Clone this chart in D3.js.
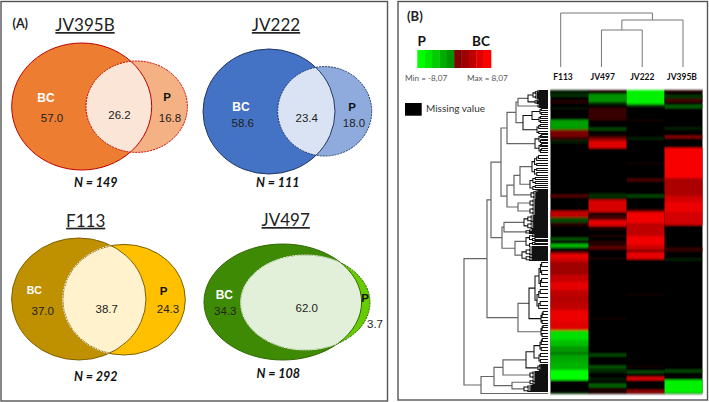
<!DOCTYPE html>
<html><head><meta charset="utf-8">
<script src="https://cdn.jsdelivr.net/npm/d3@7"></script>
<style>html,body{margin:0;padding:0;background:#fff}svg{display:block}</style></head>
<body><svg id="c" width="709" height="402"></svg>
<script>
// ---- Venn data (percent of N) ----
const strains = ["JV395B","JV222","F113","JV497"];
const bcValues = ["57.0","58.6","37.0","34.3"];
const sharedValues = ["26.2","23.4","38.7","62.0"];
const pValues = ["16.8","18.0","24.3","3.7"];
const nValues = [149,111,292,108];

// ---- Heatmap data: per column, [first row, last row, log-ratio] ----
const heatColumns = ["F113","JV497","JV222","JV395B"];
const heatF113 = [[0,5,-0.8],[5,6.5,-2],[11,12.5,1.8],[18,19,-1],[30,39.5,-5],[40,47,3.8],[48,49.5,2],[51,52,-1.8],
 [105,107,3],[121,127.5,6],[127.5,132,-2.4],[133,135,1.5],[148,150,-3],[154,157.5,-6],[162,164,4],
 [164,168,7.4],[168,172,6.4],[172,178,5],[178,185,5],[185,192,6.2],[192,200,7.2],[200,206,6],[206,212,5.6],[212,220,6],[220,232,7.4],[232,240.5,7],
 [240.5,250,-7],[250,256,-6],[256,262,-4.8],[262,265,-3.8],[265,272,-5.2],[272,280,-5.6],[280,290,-8],[303,304,-2]];
const heatJV497 = [[0,1,1.5],[4,12,-4.6],[12,15,-1.2],[18,30,1.8],[38,40,-2.5],[46,48,2],[48,51,4.5],[51,58,7],
 [104,108,-1.6],[110,122,6.8],[125,130,2],[130,136,7.2],[137,140,1],[145,147,0.8],[152,154,1.5],[156,159,3],[168,169,1.2],
 [228,229,0.8],[264,266,-2.6],[276,278,-3],[279,282,-1.6],[289,290,-1.4],[294,297,-3.2],[298,304,0.8]];
const heatJV222 = [[0,14,-7.6],[14,16,-2.5],[30,31,0.8],[48,49,-1.6],[73,74,0.8],[89,91,2.6],[105,107,-2.5],
 [120,122,2.6],[122,133,7.6],[133,146,6],[146,155,7.6],[155,160,6.4],[160,162,2.6],[162,169,7.2],[204,205,0.9],
 [276,277,0.8],[281,283,-2.6],[287,290,7],[300,303,4.6]];
const heatJV395B = [[0,2,1.2],[5,8,-1.8],[9,12,2.2],[15,18,-3],[38,39,-1.8],[46,48,4.6],[58,88,7.8],[88,106,5.4],
 [106,112,6.6],[112,122,7.4],[122,135,6.6],[158,161,1.8],[169,170,-1.6],[280,282,-2.6],[290,303,-7.6]];
const heatSeries = [heatF113,heatJV497,heatJV222,heatJV395B];
const legendValues = [-8,-7.2,-6.4,-5.4,-4.6,4,5,6,7,8];

// ---- Column dendrogram: merge heights ----
const colTree = [54,"F113",[47,[37,"JV497","JV222"],"JV395B"]];
const colLeaves = ["F113","JV497","JV222","JV395B"];

// ---- Row dendrogram: [height, child, child]; leaf = row number ----
function comb(h, rows){
  if(rows.length===1) return rows[0];
  const m=Math.ceil(rows.length/2);
  const k=h*0.84;
  return [h, comb(k,rows.slice(0,m)), comb(k,rows.slice(m))];
}
const rowTree = [84,
 [61,
  [57,
   [47,
    [41,
     [32,
      [30,[20,comb(15,[0,1,2,3,4,5,6,7,8]),comb(13,[9,10,11,12,13])],comb(10,[14,15,16,17])],
      [25,[16,comb(8,[18,20,22,24]),comb(9,[26,28,30,32])],comb(11,[34,36,38,41,43])]],
     [13,comb(9,[44,46,47,49,50,52]),comb(9,[53,55,56,58,60,62])]],
    [41,
     [34,
      [28,comb(16,[65,68,70,73,75,78,80,82,85]),comb(18,[87,89,91,93,95,97,99])],
      comb(17,[100,101,102,103,104,105,106,107,108])],
     [30,comb(18,[109,110,111,112,113,114,115,116]),comb(18,[117,118,119,120,121,122,123,124])]]],
   [46,
    [44,
     comb(24,[125,126,127,128,129,130,131,132,133,134,135,136,137,138]),
     comb(22,[139,140,141,142,143])],
    [33,
     comb(22,[144,145,146,147,149,150,151,153,154,156,157]),
     comb(26,[158,159,160,161,162,163,164,165,166,167,168,169,170])]]],
  [30,
   [19,
    [13,comb(9,[172,176,180,184,188,192,196]),comb(11,[199,203,207,211,215,218])],
    comb(7,[221,224,227,230,233])],
   comb(7,[235,237,240,243,246])]],
 [67,
  [54,
   [45,
    [22,[14,comb(8,[248,251,254,257,260]),comb(9,[263,266,269,272])],comb(10,[274,275,276,277,278,279,280])],
    comb(18,[281,282,283,284,285,286,287,288])],
   [36,comb(18,[289,290,291,292,293,294]),comb(24,[295,296,297,298,299,300,301])]],
  303]];

// ---- Layout (pixels) kept apart from the values ----
const vennLayout = {
 JV395B:{bc:[81.7,106.5,70,63.5],p:[136.7,106.7,50.7,45.7],fb:"#ED7D31",fp:"#F4B183",fi:"#FBE5D6",sb:"#C00000",sp:"#C00000",inner:null,
  title:[85,31],tBC:[46,102,12],vBC:[52,121.5],vI:[119.5,119],tP:[167,101],vP:[170,121.5],n:[95.7,186.7]},
 JV222:{bc:[269,111.5,66,62.5],p:[324.7,111.3,47,44.7],fb:"#4472C4",fp:"#8FAADC",fi:"#DAE3F3",sb:"#203864",sp:"#203864",inner:null,
  title:[276,31],tBC:[241,111,12],vBC:[242.7,126.7],vI:[306.7,121.7],tP:[352,111],vP:[354,126.7],n:[277.7,187.3]},
 F113:{bc:[78.8,299,67.2,61],p:[124,299.7,61.3,55.3],fb:"#BF9000",fp:"#FFC000",fi:"#FFF2CC",sb:"#7F6000",sp:"#7F6000",inner:"#fff",
  title:[85.7,226.7],tBC:[34.3,294,10.5],vBC:[42.7,315],vI:[106.7,312.7],tP:[163.7,295],vP:[168,312.7],n:[95.7,381]},
 JV497:{bc:[282.8,302,78.8,58],p:[305.3,302.5,64.7,47.5],fb:"#3F8A04",fp:"#66CC00",fi:"#E2F0D9",sb:"#2F6A03",sp:"#2F6A03",inner:"#fff",
  title:[285.7,226],tBC:[224.3,299.3,12],vBC:[225.3,315],vI:[306.7,311.7],tP:[365,302],vP:[375,328],n:[278.3,378.3]}
};

const svg = d3.select("#c");
const defs = svg.append("defs");
const soft = defs.append("filter").attr("id","soft").attr("x","-5%").attr("y","-5%").attr("width","110%").attr("height","110%");
soft.append("feGaussianBlur").attr("stdDeviation","0.35 0.8");
const soft2 = defs.append("filter").attr("id","soft2");
soft2.append("feGaussianBlur").attr("stdDeviation","0.3");

// frames
svg.append("rect").attr("x",1).attr("y",1.5).attr("width",386.5).attr("height",399.5).attr("fill","none").attr("stroke","#555").attr("stroke-width",1.4);
svg.append("rect").attr("x",398).attr("y",1.5).attr("width",309.5).attr("height",398.5).attr("fill","none").attr("stroke","#555").attr("stroke-width",1.4);

const SANS="'Liberation Sans',Arial,sans-serif", CAL="Lato,'Open Sans',sans-serif";
function txt(g,x,y,s,o={}){
 return g.append("text").attr("x",x).attr("y",y).text(s)
  .attr("text-anchor",o.a||"middle").attr("font-family",o.f||SANS).attr("font-size",o.s||11)
  .attr("font-weight",o.w||"normal").attr("font-style",o.i||"normal").attr("fill",o.c||"#222");
}

// Panel A
const A = svg.append("g");
txt(A,12.5,28,"(A)",{a:"start",w:"bold",s:12.5,f:CAL});
strains.forEach((name,i)=>{
 const L=vennLayout[name], g=A.append("g");
 const ell=(sel,e)=>sel.attr("cx",e[0]).attr("cy",e[1]).attr("rx",e[2]).attr("ry",e[3]);
 const id="clip"+i;
 ell(defs.append("clipPath").attr("id",id).append("ellipse"),L.bc);
 ell(g.append("ellipse"),L.bc).attr("fill",L.fb);
 ell(g.append("ellipse"),L.p).attr("fill",L.fp);
 ell(g.append("ellipse"),L.p).attr("fill",L.fi).attr("clip-path",`url(#${id})`);
 ell(g.append("ellipse"),L.p).attr("fill","none").attr("stroke",L.sp).attr("stroke-width",1).attr("stroke-dasharray",name==="F113"?null:"2 1");
 ell(g.append("ellipse"),L.bc).attr("fill","none").attr("stroke",L.sb).attr("stroke-width",1);
 if(L.inner) ell(g.append("ellipse"),L.p).attr("fill","none").attr("stroke",L.inner).attr("stroke-width",1).attr("stroke-dasharray","2 1").attr("clip-path",`url(#${id})`);
 txt(g,L.title[0],L.title[1],name,{f:CAL,s:17}).attr("text-decoration","underline");
 txt(g,L.tBC[0],L.tBC[1],"BC",{c:"#fff",w:"bold",s:L.tBC[2]});
 txt(g,L.vBC[0],L.vBC[1],bcValues[i],{s:11.5});
 txt(g,L.vI[0],L.vI[1],sharedValues[i],{s:11.5});
 txt(g,L.tP[0],L.tP[1],"P",{w:"bold",s:11.5,c:"#111"});
 txt(g,L.vP[0],L.vP[1],pValues[i],{s:11.5});
 txt(g,L.n[0],L.n[1],"N = "+nValues[i],{f:CAL,w:"bold",i:"italic",s:12.5,c:"#111"});
});

// Panel B
const B = svg.append("g");
txt(B,407,21,"(B)",{a:"start",w:"bold",s:13,f:CAL});
const color = d3.scaleLinear().domain([-8,0,8]).range(["#00ff00","#000000","#ff0000"]);
const legX = d3.scaleBand().domain(d3.range(legendValues.length)).range([417.3,491]);
B.append("g").attr("filter","url(#soft2)").selectAll("rect").data(legendValues).join("rect")
 .attr("x",(d,i)=>legX(i)).attr("y",50).attr("width",legX.bandwidth()+.3).attr("height",18).attr("fill",d=>color(d));
txt(B,421.7,46,"P",{f:CAL,w:"bold",s:13.5,c:"#111"});
txt(B,481,46,"BC",{f:CAL,w:"bold",s:13.5,c:"#111"});
txt(B,405,81,"Min = -8,07",{a:"start",f:CAL,s:8.2,c:"#555"});
txt(B,467,81,"Max = 8,07",{a:"start",f:CAL,s:8.2,c:"#555"});
B.append("rect").attr("x",405).attr("y",103).attr("width",16.7).attr("height",12.7).attr("fill","#000");
txt(B,426,112,"Missing value",{a:"start",f:CAL,s:10,c:"#333"});

// heatmap
const col = d3.scaleBand().domain(heatColumns).range([550.5,702.5]);
const rowY = d3.scaleLinear().domain([0,304]).range([90,394]);
const H = B.append("g").attr("filter","url(#soft)");
H.append("rect").attr("x",550.5).attr("y",90).attr("width",152).attr("height",304).attr("fill","#000");
heatColumns.forEach((c,i)=>{
 H.append("g").selectAll("rect").data(heatSeries[i]).join("rect")
  .attr("x",col(c)).attr("width",col.bandwidth())
  .attr("y",d=>rowY(d[0])).attr("height",d=>rowY(d[1])-rowY(d[0]))
  .attr("fill",d=>color(d[2]));
});

// column labels + column dendrogram
const colLabelX = d3.scalePoint().domain(colLeaves).range([563,682]);
colLeaves.forEach(c=>txt(B,colLabelX(c),80,c,{f:CAL,w:"bold",s:8.5,c:"#111"}));
const kids = d=>Array.isArray(d)?d.slice(1):null;
const colX = d3.scalePoint().domain(colLeaves).range([560.7,683]);
const colH = d3.scaleLinear().domain([0,54]).range([67,13]);
const ch = d3.hierarchy(colTree,kids);
ch.eachAfter(n=>{n.px=n.children?d3.mean([n.children[0].px,n.children[1].px]):colX(n.data);n.h=n.children?n.data[0]:0;});
const cp=d3.path();
ch.each(n=>{ if(n.children){const a=n.children[0],b=n.children[1];
 cp.moveTo(a.px,colH(a.h));cp.lineTo(a.px,colH(n.h));cp.lineTo(b.px,colH(n.h));cp.lineTo(b.px,colH(b.h));}});
B.append("path").attr("d",cp.toString()).attr("fill","none").attr("stroke","#777").attr("stroke-width",1);

// row dendrogram
const dendX = d3.scaleLinear().domain([0,84]).range([548,464]);
const rh = d3.hierarchy(rowTree,kids);
rh.eachAfter(n=>{n.py=n.children?d3.mean([n.children[0].py,n.children[1].py]):rowY(n.data+.5);n.h=n.children?n.data[0]:0;});
const thick=d3.path(), thin=d3.path();
rh.each(n=>{ if(n.children){
 const [a,b]=n.children, p=n.h>26?thick:thin;
 p.moveTo(dendX(a.h),a.py);p.lineTo(dendX(n.h),a.py);p.lineTo(dendX(n.h),b.py);p.lineTo(dendX(b.h),b.py);}});
B.append("path").attr("d",thick.toString()).attr("fill","none").attr("stroke","#666").attr("stroke-width",1.2);
B.append("path").attr("d",thin.toString()).attr("fill","none").attr("stroke","#111").attr("stroke-width",1.05);
</script></body></html>
